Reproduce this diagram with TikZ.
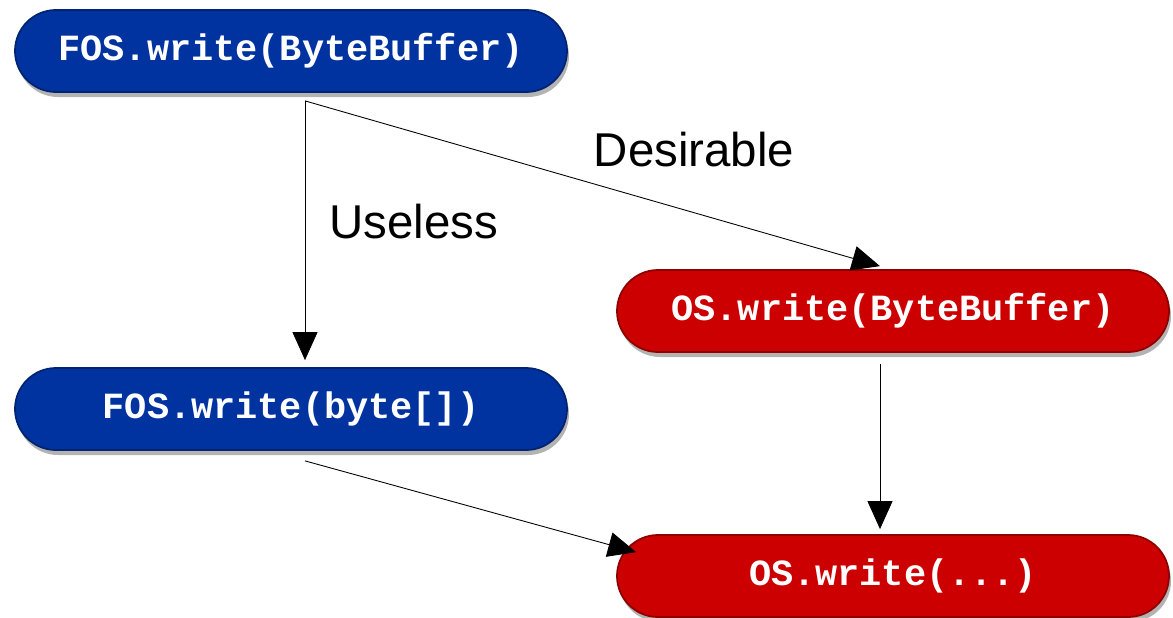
\documentclass[tikz,border=0pt]{standalone}
\usepackage{fontspec}
\setmainfont{Liberation Sans}
\setmonofont{Liberation Mono}
\usetikzlibrary{arrows.meta, positioning, shadows}

\definecolor{fosblue}{RGB}{0,51,160}
\definecolor{osred}{RGB}{204,0,0}

\begin{document}
\begin{tikzpicture}[
  pill/.style={rectangle, rounded corners=0.82cm, minimum width=11.04cm, minimum height=1.64cm,
    text=white, font=\fontsize{21}{25}\selectfont\ttfamily\bfseries, align=center,
    drop shadow={shadow xshift=0.04cm, shadow yshift=-0.1cm, opacity=0.6}},
  fos/.style={pill, fill=fosblue, draw=fosblue!70!black, line width=1pt},
  os/.style={pill, fill=osred, draw=osred!70!black, line width=1pt},
  lbl/.style={font=\fontsize{27}{32}\selectfont},
  line/.style={draw, -{Triangle[length=0.56cm, width=0.5cm]}, line width=0.5pt}]
  \useasboundingbox (0,0) rectangle (23.46,12.34);

  \node [fos] (fosbb) at (5.82,11.32) {FOS.write(ByteBuffer)};
  \node [fos] (fosarr) at (5.82,4.16) {FOS.write(byte[])};
  \node [os] (osbb) at (17.86,6.12) {OS.write(ByteBuffer)};
  \node [os] (osany) at (17.86,0.82) {OS.write(...)};

  \node [lbl] (desir) at (13.88,9.34) {Desirable};
  \node [lbl] (useless) at (8.28,7.9) {Useless};

  \path [line] ([xshift=0.28cm, yshift=-0.16cm]fosbb.south) -- ([xshift=0.28cm, yshift=0.14cm]fosarr.north);
  \path [line] ([xshift=0.28cm, yshift=-0.16cm]fosbb.south) -- ([xshift=-0.26cm, yshift=0.06cm]osbb.north);
  \path [line] ([xshift=0.28cm, yshift=-0.2cm]fosarr.south) -- ([xshift=0.4cm, yshift=-0.36cm]osany.north west);
  \path [line] ([xshift=-0.26cm, yshift=-0.22cm]osbb.south) -- ([xshift=-0.26cm, yshift=0.1cm]osany.north);
\end{tikzpicture}
\end{document}
